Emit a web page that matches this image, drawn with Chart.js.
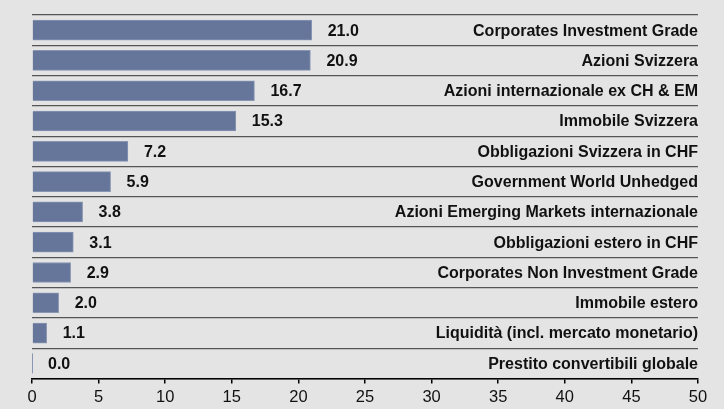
<!DOCTYPE html>
<html lang="it">
<head>
    <meta charset="UTF-8">
    <title>Allocazione</title>
    <style>
        body {
            margin: 0;
            padding: 0;
            background: #e4e4e4;
        }
        #wrap {
            width: 724px;
            height: 409px;
        }
    </style>
    <script src="https://cdn.jsdelivr.net/npm/chart.js@4/dist/chart.umd.min.js"></script>
</head>
<body>
<div id="wrap">
    <canvas id="chart" width="724" height="409"></canvas>
</div>
<script>
    const categories = [
        'Corporates Investment Grade',
        'Azioni Svizzera',
        'Azioni internazionale ex CH & EM',
        'Immobile Svizzera',
        'Obbligazioni Svizzera in CHF',
        'Government World Unhedged',
        'Azioni Emerging Markets internazionale',
        'Obbligazioni estero in CHF',
        'Corporates Non Investment Grade',
        'Immobile estero',
        'Liquidità (incl. mercato monetario)',
        'Prestito convertibili globale'
    ];
    const values = [21.0, 20.9, 16.7, 15.3, 7.2, 5.9, 3.8, 3.1, 2.9, 2.0, 1.1, 0.0];
    const xTicks = [0, 5, 10, 15, 20, 25, 30, 35, 40, 45, 50];

    const FONT = '"Liberation Sans", Arial, sans-serif';

    // value next to each bar, category name right-aligned inside the plot
    const rowLabels = {
        id: 'rowLabels',
        afterDatasetsDraw(chart) {
            const ctx = chart.ctx;
            const meta = chart.getDatasetMeta(0);
            const area = chart.chartArea;
            ctx.save();
            ctx.fillStyle = '#111';
            ctx.font = 'bold 16px ' + FONT;
            ctx.textBaseline = 'middle';
            meta.data.forEach(function(bar, i) {
                ctx.textAlign = 'left';
                ctx.fillText(values[i].toFixed(1), bar.x + 16, bar.y + 1);
                ctx.textAlign = 'right';
                ctx.fillText(categories[i], area.right, bar.y + 1);
            });
            // hairline for the zero bar
            const last = meta.data[meta.data.length - 1];
            ctx.fillStyle = '#8896b4';
            ctx.fillRect(area.left, last.y - 10, 1, 20);
            ctx.restore();
        }
    };

    new Chart(document.getElementById('chart'), {
        type: 'bar',
        data: {
            labels: categories,
            datasets: [{
                data: values,
                backgroundColor: '#66769a',
                borderColor: '#8896b4',
                borderWidth: 1,
                barThickness: 20
            }]
        },
        options: {
            indexAxis: 'y',
            responsive: false,
            animation: false,
            layout: { padding: { left: 32, right: 26, top: 15, bottom: -3 } },
            plugins: {
                legend: { display: false },
                tooltip: { enabled: false }
            },
            scales: {
                x: {
                    min: 0,
                    max: 50,
                    afterBuildTicks: function(axis) {
                        axis.ticks = xTicks.map(function(v) { return { value: v }; });
                    },
                    grid: {
                        drawOnChartArea: false,
                        drawTicks: true,
                        tickLength: 5,
                        color: '#000',
                        lineWidth: 1.5
                    },
                    border: { display: true, color: '#000', width: 1.5 },
                    ticks: {
                        color: '#111',
                        padding: 6,
                        maxRotation: 0,
                        font: { family: FONT, size: 16.5, lineHeight: 1 }
                    }
                },
                y: {
                    grid: {
                        offset: true,
                        drawTicks: false,
                        color: '#555',
                        lineWidth: 1.2
                    },
                    border: { display: false },
                    ticks: { display: false }
                }
            }
        },
        plugins: [rowLabels]
    });
</script>
</body>
</html>
